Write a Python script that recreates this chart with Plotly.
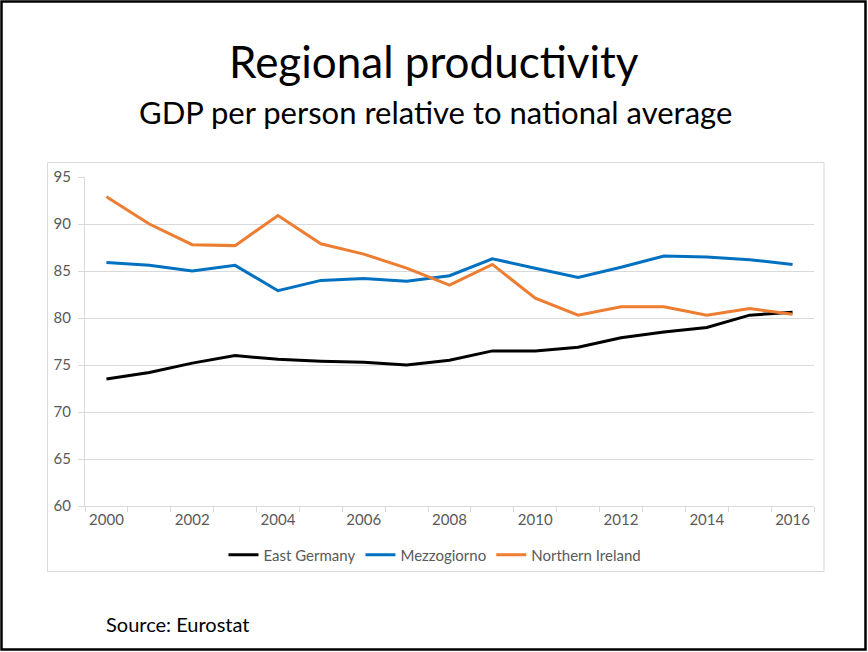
import plotly.graph_objects as go

# ---- data ----
years = list(range(2000, 2017))
east_germany = [73.5, 74.2, 75.2, 76.0, 75.6, 75.4, 75.3, 75.0, 75.5, 76.5, 76.5, 76.9, 77.9, 78.5, 79.0, 80.3, 80.6]
mezzogiorno = [85.9, 85.6, 85.0, 85.6, 82.9, 84.0, 84.2, 83.9, 84.5, 86.3, 85.3, 84.3, 85.4, 86.6, 86.5, 86.2, 85.7]
northern_ireland = [92.9, 90.0, 87.8, 87.7, 90.9, 87.9, 86.8, 85.3, 83.5, 85.7, 82.1, 80.3, 81.2, 81.2, 80.3, 81.0, 80.4]
series_names = ["East Germany", "Mezzogiorno", "Northern Ireland"]
series_colors = ["#000000", "#0070C0", "#ED7D31"]
x_tick_labels = [str(y) for y in range(2000, 2017, 2)]
y_tick_values = list(range(60, 96, 5))

W, H = 868, 652
L, R, T, B = 85, 54, 177, 146
PW, PH = W - L - R, H - T - B

def px_x(x):
    return (x - L) / PW

def px_y(y):
    return 1 - (y - T) / PH

FONT = "Lato"
TXT = "#595959"

fig = go.Figure()
for name, vals, col in zip(series_names, [east_germany, mezzogiorno, northern_ireland], series_colors):
    fig.add_trace(go.Scatter(x=years, y=vals, name=name, mode="lines",
                             line=dict(color=col, width=3)))

fig.update_layout(
    width=W, height=H,
    margin=dict(l=L, r=R, t=T, b=B),
    paper_bgcolor="white", plot_bgcolor="white",
    font=dict(family=FONT, color=TXT, size=15),
    showlegend=True,
    legend=dict(orientation="h", x=px_x(435), y=px_y(555), xanchor="center", yanchor="middle",
                font=dict(size=15, color=TXT), itemwidth=30, bgcolor="rgba(0,0,0,0)"),
    xaxis=dict(range=[1999.5, 2016.5], tickmode="array",
               tickvals=list(range(2000, 2017, 2)), ticktext=x_tick_labels,
               ticks="", showgrid=False, showline=True, linecolor="#d9d9d9", linewidth=1,
               zeroline=False, tickfont=dict(size=15, color=TXT),
               minor=dict(tick0=1999.5, dtick=1, ticks="outside", ticklen=5,
                          tickcolor="#d9d9d9", tickwidth=1, showgrid=False)),
    yaxis=dict(range=[60, 95], tickmode="array", tickvals=y_tick_values,
               ticks="outside", ticklen=6, tickcolor="#d9d9d9", tickwidth=1,
               ticklabelstandoff=4,
               showgrid=True, gridcolor="#d9d9d9", gridwidth=1,
               showline=True, linecolor="#d9d9d9", linewidth=1, zeroline=False,
               tickfont=dict(size=15, color=TXT)),
    shapes=[
        dict(type="rect", xref="paper", yref="paper",
             x0=px_x(47.5), x1=px_x(824), y0=px_y(571.5), y1=px_y(162.5),
             line=dict(color="#d9d9d9", width=1), fillcolor="rgba(0,0,0,0)", layer="below"),
        dict(type="rect", xref="paper", yref="paper",
             x0=px_x(1.5), x1=px_x(865.5), y0=px_y(649.5), y1=px_y(1.5),
             line=dict(color="#000000", width=2.5), fillcolor="rgba(0,0,0,0)"),
    ],
    annotations=[
        dict(text="Regional productivity", xref="paper", yref="paper",
             x=px_x(434), y=px_y(61), xanchor="center", yanchor="middle", showarrow=False,
             font=dict(size=44, color="#000000", family=FONT)),
        dict(text="GDP per person relative to national average", xref="paper", yref="paper",
             x=px_x(435), y=px_y(112), xanchor="center", yanchor="middle", showarrow=False,
             font=dict(size=31, color="#000000", family=FONT)),
        dict(text="Source: Eurostat", xref="paper", yref="paper",
             x=px_x(104), y=px_y(624), xanchor="left", yanchor="middle", showarrow=False,
             font=dict(size=20, color="#000000", family=FONT)),
    ],
)

fig.write_html("out.html", config={"displayModeBar": False},
               post_script="document.body.style.margin='0';")
